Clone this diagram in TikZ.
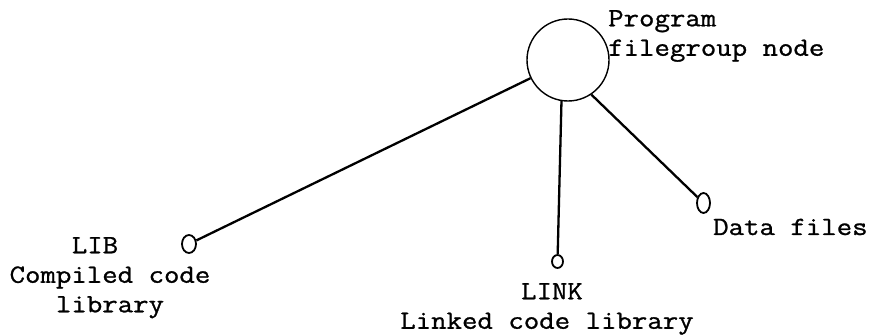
\documentclass[tikz,border=0pt]{standalone}
\usepackage{fontspec}
\setmonofont{Latin Modern Mono}[FakeStretch=1.14, FakeBold=1]
\usetikzlibrary{shapes.geometric}
\begin{document}
\begin{tikzpicture}[x=1pt,y=-1pt,
  txt/.style={font=\ttfamily\fontsize{26.3}{29.5}\selectfont, inner sep=0pt, align=center},
  leaf/.style={draw, line width=1.8pt, ellipse, inner sep=0pt},
  edge/.style={line width=2.3pt}]
\useasboundingbox[fill=white] (0,0) rectangle (873,336);
\node[draw, circle, line width=1.4pt, minimum size=82pt, inner sep=0pt] (prog) at (568,60) {};
\node[leaf, minimum width=14pt, minimum height=18pt] (lib) at (189,244) {};
\node[leaf, minimum width=11pt, minimum height=13pt] (link) at (557.5,261.5) {};
\node[leaf, minimum width=13pt, minimum height=20pt] (data) at (703.5,203) {};
\draw[edge] (prog) -- (lib);
\draw[edge] (prog.261) -- (link);
\draw[edge] (prog.304) -- (data);
\node[txt, anchor=north west, align=left] (progl) at (608,10) {Program\\filegroup node};
\node[txt, anchor=north] (libl) at (110,237) {LIB\hspace*{30pt}\\Compiled code\\library};
\node[txt, anchor=north] (linkl) at (547,283) {\hspace*{10pt}LINK\\Linked code library};
\node[txt, anchor=base west] (datal) at (713,235) {Data files};
\end{tikzpicture}
\end{document}
